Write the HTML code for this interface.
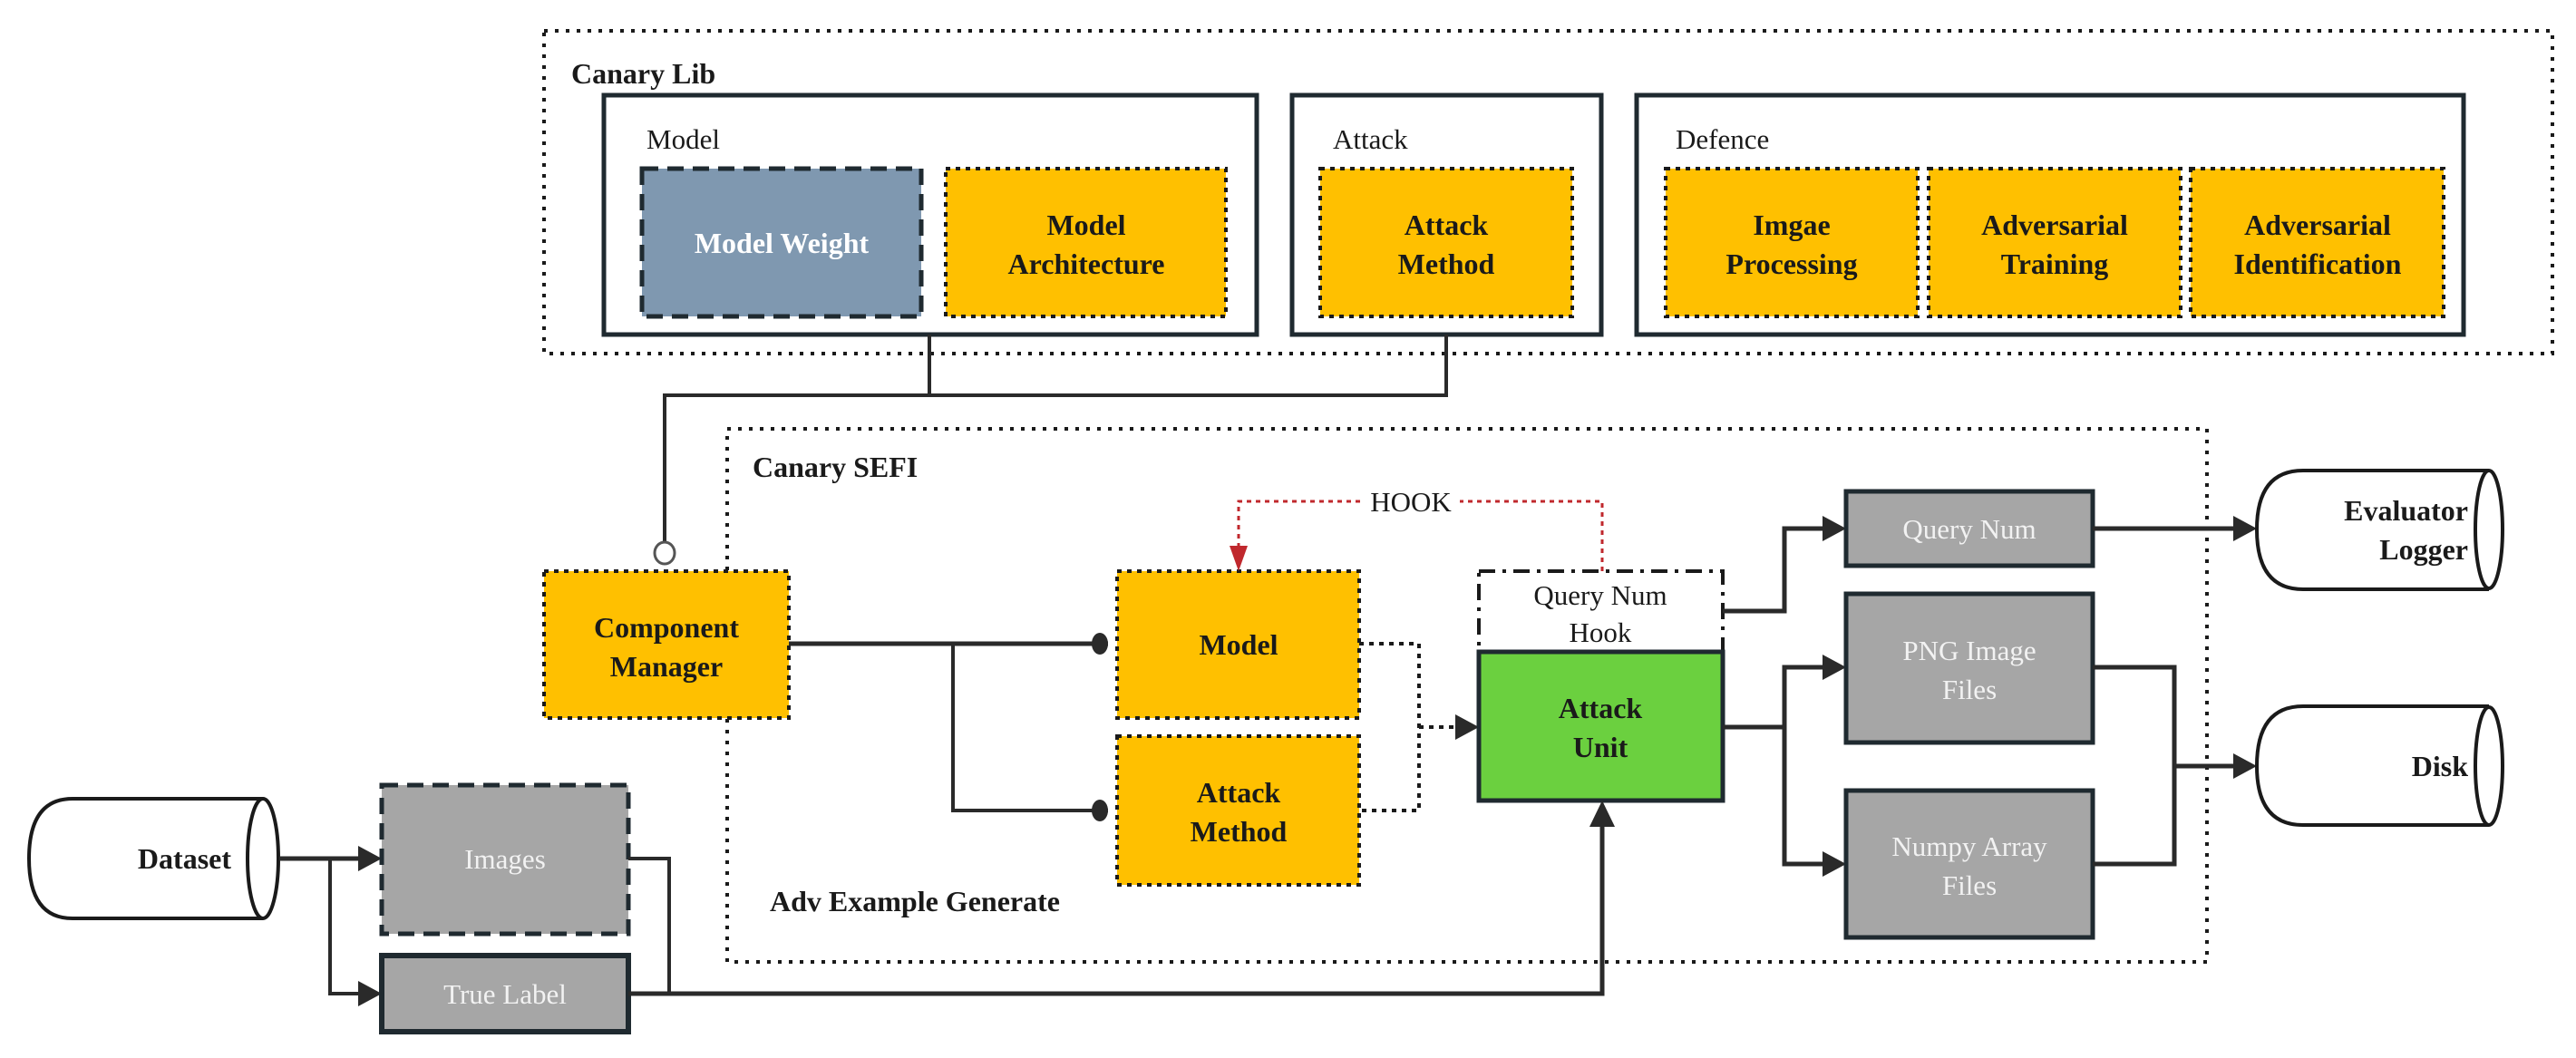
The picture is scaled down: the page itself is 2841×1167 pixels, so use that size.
<!DOCTYPE html>
<html><head><meta charset="utf-8"><style>
html,body{margin:0;padding:0;background:#fff;}
svg{display:block;}
text{font-family:"Liberation Serif",serif;}
.b{font-weight:bold;font-size:32px;fill:#1a1a1a;}
.n{font-size:31px;fill:#1a1a1a;}
.w{font-size:31px;fill:#f2f2f2;}
.wb{font-weight:bold;font-size:32px;fill:#fff;}
</style></head><body>
<svg width="2841" height="1167" viewBox="0 0 2841 1167" xmlns="http://www.w3.org/2000/svg">
<defs>
<marker id="ar" markerWidth="10" markerHeight="10" refX="9" refY="5" orient="auto" markerUnits="userSpaceOnUse" viewBox="0 0 10 10">
</marker>
</defs>
<!-- Canary Lib outer -->
<rect x="600" y="34" width="2215" height="356" fill="none" stroke="#1a1a1a" stroke-width="4" stroke-dasharray="4 8"/>
<text x="630" y="92" class="b">Canary Lib</text>
<!-- Model box -->
<rect x="666" y="105" width="720" height="264" fill="none" stroke="#1f2a30" stroke-width="5"/>
<text x="713" y="164" class="n">Model</text>
<rect x="708" y="186" width="308" height="163" fill="#7f98b0" stroke="#1f2a30" stroke-width="5" stroke-dasharray="18 10"/>
<text x="862" y="279" class="wb" text-anchor="middle">Model Weight</text>
<rect x="1043" y="186" width="309" height="163" fill="#ffc000" stroke="#1a1a1a" stroke-width="4" stroke-dasharray="5 6"/>
<text x="1198" y="259" class="b" text-anchor="middle">Model</text>
<text x="1198" y="302" class="b" text-anchor="middle">Architecture</text>
<!-- Attack box -->
<rect x="1425" y="105" width="341" height="264" fill="none" stroke="#1f2a30" stroke-width="5"/>
<text x="1470" y="164" class="n">Attack</text>
<rect x="1456" y="186" width="278" height="163" fill="#ffc000" stroke="#1a1a1a" stroke-width="4" stroke-dasharray="5 6"/>
<text x="1595" y="259" class="b" text-anchor="middle">Attack</text>
<text x="1595" y="302" class="b" text-anchor="middle">Method</text>
<!-- Defence box -->
<rect x="1805" y="105" width="912" height="264" fill="none" stroke="#1f2a30" stroke-width="5"/>
<text x="1848" y="164" class="n">Defence</text>
<rect x="1837" y="186" width="278" height="163" fill="#ffc000" stroke="#1a1a1a" stroke-width="4" stroke-dasharray="5 6"/>
<text x="1976" y="259" class="b" text-anchor="middle">Imgae</text>
<text x="1976" y="302" class="b" text-anchor="middle">Processing</text>
<rect x="2127" y="186" width="278" height="163" fill="#ffc000" stroke="#1a1a1a" stroke-width="4" stroke-dasharray="5 6"/>
<text x="2266" y="259" class="b" text-anchor="middle">Adversarial</text>
<text x="2266" y="302" class="b" text-anchor="middle">Training</text>
<rect x="2416" y="186" width="279" height="163" fill="#ffc000" stroke="#1a1a1a" stroke-width="4" stroke-dasharray="5 6"/>
<text x="2556" y="259" class="b" text-anchor="middle">Adversarial</text>
<text x="2556" y="302" class="b" text-anchor="middle">Identification</text>
<!-- lib connectors -->
<polyline points="1025,369 1025,436" fill="none" stroke="#2a2a2a" stroke-width="4"/>
<polyline points="1595,369 1595,436 733,436 733,598" fill="none" stroke="#2a2a2a" stroke-width="4"/>
<ellipse cx="733" cy="610" rx="11" ry="12" fill="#fff" stroke="#555" stroke-width="3"/>
<!-- SEFI -->
<rect x="802" y="473" width="1632" height="588" fill="none" stroke="#1a1a1a" stroke-width="4" stroke-dasharray="4 8"/>
<text x="830" y="526" class="b">Canary SEFI</text>
<text x="849" y="1005" class="b">Adv Example Generate</text>
<!-- Component Manager -->
<rect x="600" y="630" width="270" height="162" fill="#ffc000" stroke="#1a1a1a" stroke-width="4" stroke-dasharray="5 6"/>
<text x="735" y="703" class="b" text-anchor="middle">Component</text>
<text x="735" y="746" class="b" text-anchor="middle">Manager</text>
<!-- CM to Model/Attack -->
<polyline points="870,710 1222,710" fill="none" stroke="#2a2a2a" stroke-width="5"/>
<polyline points="1051,710 1051,894 1222,894" fill="none" stroke="#2a2a2a" stroke-width="4"/>
<ellipse cx="1213" cy="710" rx="9" ry="12" fill="#2a2a2a"/>
<ellipse cx="1213" cy="894" rx="9" ry="12" fill="#2a2a2a"/>
<!-- Model / Attack Method -->
<rect x="1232" y="630" width="267" height="162" fill="#ffc000" stroke="#1a1a1a" stroke-width="4" stroke-dasharray="5 6"/>
<text x="1366" y="722" class="b" text-anchor="middle">Model</text>
<rect x="1232" y="812" width="267" height="164" fill="#ffc000" stroke="#1a1a1a" stroke-width="4" stroke-dasharray="5 6"/>
<text x="1366" y="885" class="b" text-anchor="middle">Attack</text>
<text x="1366" y="928" class="b" text-anchor="middle">Method</text>
<!-- dotted connectors -->
<polyline points="1499,710 1565,710 1565,894 1499,894" fill="none" stroke="#1a1a1a" stroke-width="4" stroke-dasharray="5 6"/>
<line x1="1565" y1="802" x2="1608" y2="802" stroke="#1a1a1a" stroke-width="4" stroke-dasharray="5 6"/>
<polygon points="1631,802 1605,788 1605,816" fill="#2a2a2a"/>
<!-- Hook -->
<polyline points="1767,630 1767,553 1610,553" fill="none" stroke="#c0282d" stroke-width="3" stroke-dasharray="5 5"/>
<polyline points="1500,553 1366,553 1366,610" fill="none" stroke="#c0282d" stroke-width="3" stroke-dasharray="5 5"/>
<polygon points="1366,630 1356,602 1376,602" fill="#c0282d"/>
<text x="1556" y="564" class="n" text-anchor="middle">HOOK</text>
<rect x="1631" y="630" width="269" height="89" fill="#fff" stroke="#1a1a1a" stroke-width="4" stroke-dasharray="18 8 4 8"/>
<text x="1765" y="667" class="n" text-anchor="middle">Query Num</text>
<text x="1765" y="708" class="n" text-anchor="middle">Hook</text>
<rect x="1631" y="719" width="269" height="164" fill="#6bd03f" stroke="#1f2a30" stroke-width="5"/>
<text x="1765" y="792" class="b" text-anchor="middle">Attack</text>
<text x="1765" y="835" class="b" text-anchor="middle">Unit</text>
<!-- outputs -->
<polyline points="1900,674 1968,674 1968,583 2012,583" fill="none" stroke="#2a2a2a" stroke-width="5"/>
<polygon points="2036,583 2010,569 2010,597" fill="#2a2a2a"/>
<polyline points="1900,802 1968,802" fill="none" stroke="#2a2a2a" stroke-width="5"/>
<polyline points="2012,736 1968,736 1968,953 2012,953" fill="none" stroke="#2a2a2a" stroke-width="5"/>
<polygon points="2036,736 2010,722 2010,750" fill="#2a2a2a"/>
<polygon points="2036,953 2010,939 2010,967" fill="#2a2a2a"/>
<rect x="2036" y="542" width="272" height="82" fill="#a6a6a6" stroke="#1f2a30" stroke-width="5"/>
<text x="2172" y="594" class="w" text-anchor="middle">Query Num</text>
<rect x="2036" y="655" width="272" height="164" fill="#a6a6a6" stroke="#1f2a30" stroke-width="5"/>
<text x="2172" y="728" class="w" text-anchor="middle">PNG Image</text>
<text x="2172" y="771" class="w" text-anchor="middle">Files</text>
<rect x="2036" y="872" width="272" height="162" fill="#a6a6a6" stroke="#1f2a30" stroke-width="5"/>
<text x="2172" y="944" class="w" text-anchor="middle">Numpy Array</text>
<text x="2172" y="987" class="w" text-anchor="middle">Files</text>
<polyline points="2308,583 2465,583" fill="none" stroke="#2a2a2a" stroke-width="5"/>
<polygon points="2489,583 2463,569 2463,597" fill="#2a2a2a"/>
<polyline points="2308,736 2398,736 2398,953 2308,953" fill="none" stroke="#2a2a2a" stroke-width="5"/>
<polyline points="2398,845 2465,845" fill="none" stroke="#2a2a2a" stroke-width="5"/>
<polygon points="2489,845 2463,831 2463,859" fill="#2a2a2a"/>
<!-- Evaluator cylinder -->
<path d="M2745,519 L2540,519 Q2489,519 2489,584 Q2489,650 2540,650 L2745,650" fill="#fff" stroke="#1a1a1a" stroke-width="4"/>
<ellipse cx="2745" cy="584" rx="15" ry="65" fill="#fff" stroke="#1a1a1a" stroke-width="4"/>
<text x="2722" y="574" class="b" text-anchor="end">Evaluator</text>
<text x="2722" y="617" class="b" text-anchor="end">Logger</text>
<!-- Disk cylinder -->
<path d="M2745,779 L2540,779 Q2489,779 2489,845 Q2489,910 2540,910 L2745,910" fill="#fff" stroke="#1a1a1a" stroke-width="4"/>
<ellipse cx="2745" cy="845" rx="15" ry="65" fill="#fff" stroke="#1a1a1a" stroke-width="4"/>
<text x="2722" y="856" class="b" text-anchor="end">Disk</text>
<!-- Dataset cylinder -->
<path d="M290,881 L80,881 Q32,881 32,947 Q32,1013 80,1013 L290,1013" fill="#fff" stroke="#1a1a1a" stroke-width="4"/>
<ellipse cx="290" cy="947" rx="17" ry="66" fill="#fff" stroke="#1a1a1a" stroke-width="4"/>
<text x="255" y="958" class="b" text-anchor="end">Dataset</text>
<!-- dataset connectors -->
<polyline points="308,947 398,947" fill="none" stroke="#2a2a2a" stroke-width="5"/>
<polygon points="421,947 395,933 395,961" fill="#2a2a2a"/>
<polyline points="364,947 364,1096 398,1096" fill="none" stroke="#2a2a2a" stroke-width="4"/>
<polygon points="421,1096 395,1082 395,1110" fill="#2a2a2a"/>
<rect x="421" y="866" width="272" height="164" fill="#a6a6a6" stroke="#1f2a30" stroke-width="5" stroke-dasharray="18 10"/>
<text x="557" y="958" class="w" text-anchor="middle">Images</text>
<rect x="421" y="1054" width="272" height="84" fill="#a6a6a6" stroke="#1f2a30" stroke-width="6"/>
<text x="557" y="1107" class="w" text-anchor="middle">True Label</text>
<polyline points="693,947 738,947 738,1096" fill="none" stroke="#2a2a2a" stroke-width="4"/>
<polyline points="693,1096 1767,1096 1767,910" fill="none" stroke="#2a2a2a" stroke-width="5"/>
<polygon points="1767,883 1753,912 1781,912" fill="#2a2a2a"/>
</svg>
</body></html>
